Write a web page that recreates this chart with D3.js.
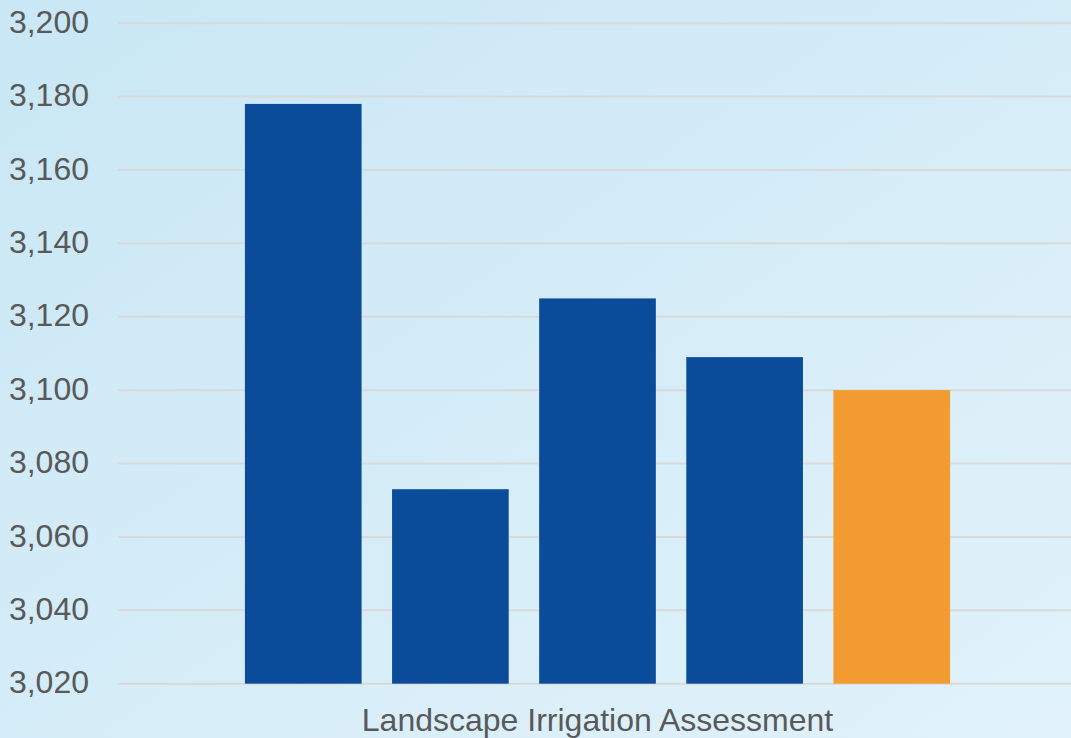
<!DOCTYPE html>
<html><head><meta charset="utf-8">
<script src="https://cdn.jsdelivr.net/npm/d3@7"></script>
<style>html,body{margin:0;padding:0;overflow:hidden;}svg{display:block;}</style>
</head><body>
<svg id="chart" width="1071" height="738"></svg>
<script>
const categories = ["Landscape Irrigation Assessment"];
const seriesNames = ["S1","S2","S3","S4","S5"];
const seriesValues = [3178, 3073, 3125, 3109, 3100];
const seriesColors = ["#0b4c9a","#0b4c9a","#0b4c9a","#0b4c9a","#f29b30"];
const yTicks = [3020,3040,3060,3080,3100,3120,3140,3160,3180,3200];

(function(){
const W = 1071, H = 738;
const svg = d3.select("#chart");
const defs = svg.append("defs");
const grad = defs.append("linearGradient").attr("id","bg").attr("x1","0").attr("y1","0").attr("x2","1").attr("y2","1");
grad.append("stop").attr("offset","0").attr("stop-color","#c9e7f5");
grad.append("stop").attr("offset","1").attr("stop-color","#e1f2fa");
svg.append("rect").attr("width",W).attr("height",H).attr("fill","url(#bg)");

const pL = 118, pR = 1071, bandR = 1077, pT = 23.2, pB = 683.7;
const y = d3.scaleLinear().domain([3020,3200]).range([pB, pT]);
const x0 = d3.scaleBand().domain(categories).range([pL, bandR]).paddingInner(0).paddingOuter(0.18);
const x1 = d3.scaleBand().domain(seriesNames).range([0, x0.bandwidth()]).paddingInner(0.207).paddingOuter(0);

svg.append("g").selectAll("line").data(yTicks).join("line")
  .attr("x1", pL).attr("x2", pR)
  .attr("y1", d=>y(d)).attr("y2", d=>y(d))
  .attr("stroke","#d9d9d9").attr("stroke-width",2);

const fmt = d3.format(",");
svg.append("g").selectAll("text").data(yTicks).join("text")
  .attr("x", 89).attr("y", d=>y(d)).attr("dy","0.3em")
  .attr("text-anchor","end")
  .attr("font-family","Liberation Sans, Arial, sans-serif")
  .attr("font-size",32).attr("fill","#595959")
  .text(d=>fmt(d));

const g = svg.append("g").attr("transform",`translate(${x0(categories[0])},0)`);
g.selectAll("rect").data(seriesValues).join("rect")
  .attr("x",(d,i)=>x1(seriesNames[i]))
  .attr("width", x1.bandwidth())
  .attr("y", d=>y(d))
  .attr("height", d=>y(3020)-y(d))
  .attr("fill",(d,i)=>seriesColors[i]);

svg.append("g").selectAll("text").data(categories).join("text")
  .attr("x", d=>x0(d)+x0.bandwidth()/2).attr("y", 731)
  .attr("text-anchor","middle")
  .attr("font-family","Liberation Sans, Arial, sans-serif")
  .attr("font-size",32).attr("fill","#595959")
  .text(d=>d);
})();
</script>
</body></html>
